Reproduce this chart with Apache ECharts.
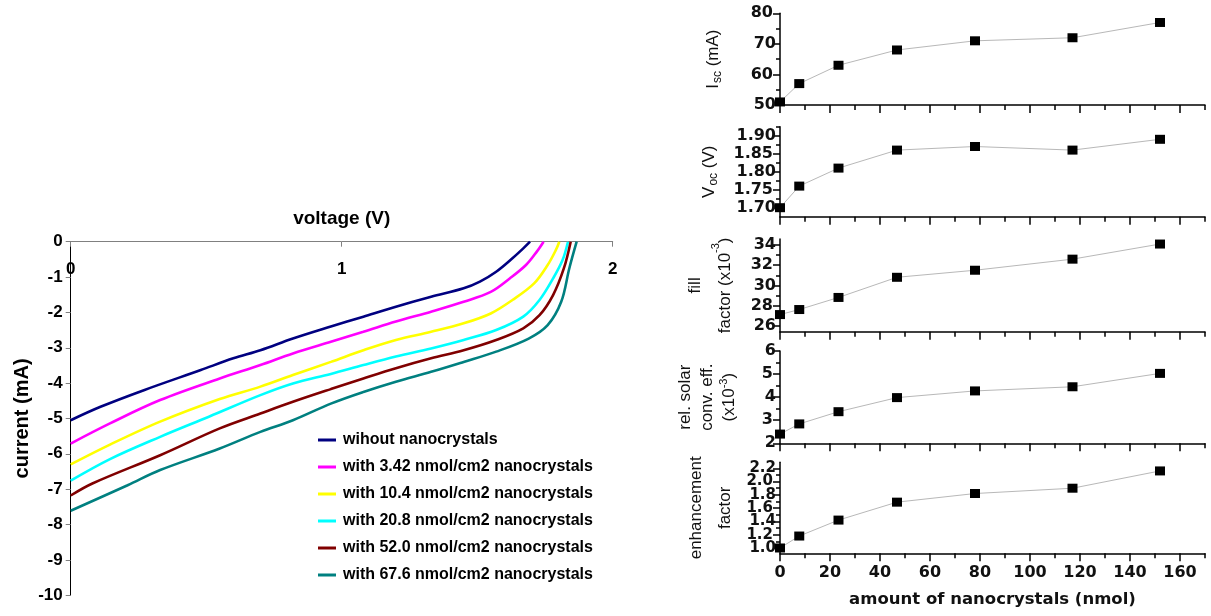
<!DOCTYPE html>
<html><head><meta charset="utf-8">
<script src="https://cdn.jsdelivr.net/npm/echarts@6/dist/echarts.min.js"></script>
<style>html,body{margin:0;padding:0;background:#fff}#c{width:1211px;height:616px}</style>
</head><body><div id="c"></div>
<script>
// ---------- Left chart: I–V curves, [voltage (V), current (mA)] ----------
const curveNames = ['wihout nanocrystals','with 3.42 nmol/cm2 nanocrystals','with 10.4 nmol/cm2 nanocrystals','with 20.8 nmol/cm2 nanocrystals','with 52.0 nmol/cm2 nanocrystals','with 67.6 nmol/cm2 nanocrystals'];
const curveColors = ['#000080','#FF00FF','#FFFF00','#00FFFF','#800000','#008080'];
const ivWithout = [[0,-5.05],[0.11,-4.67],[0.27,-4.20],[0.48,-3.63],[0.60,-3.30],[0.70,-3.07],[0.82,-2.74],[0.96,-2.40],[1.08,-2.12],[1.20,-1.84],[1.33,-1.56],[1.45,-1.32],[1.51,-1.13],[1.57,-0.85],[1.63,-0.47],[1.67,-0.19],[1.695,0]];
const iv342 = [[0,-5.71],[0.145,-5.14],[0.33,-4.48],[0.55,-3.87],[0.70,-3.49],[0.82,-3.16],[0.96,-2.83],[1.08,-2.55],[1.20,-2.26],[1.33,-1.98],[1.45,-1.70],[1.55,-1.42],[1.62,-1.04],[1.68,-0.66],[1.72,-0.28],[1.745,0]];
const iv104 = [[0,-6.30],[0.145,-5.74],[0.33,-5.09],[0.55,-4.45],[0.70,-4.10],[0.82,-3.77],[0.96,-3.40],[1.08,-3.07],[1.20,-2.78],[1.33,-2.55],[1.45,-2.31],[1.55,-2.03],[1.63,-1.65],[1.71,-1.18],[1.76,-0.66],[1.79,-0.24],[1.803,0]];
const iv208 = [[0,-6.76],[0.145,-6.15],[0.33,-5.52],[0.51,-4.95],[0.70,-4.34],[0.82,-4.01],[0.96,-3.74],[1.08,-3.49],[1.20,-3.25],[1.33,-3.02],[1.45,-2.78],[1.57,-2.50],[1.67,-2.12],[1.73,-1.65],[1.78,-1.04],[1.815,-0.52],[1.835,0]];
const iv520 = [[0,-7.18],[0.08,-6.84],[0.33,-6.04],[0.55,-5.28],[0.70,-4.86],[0.82,-4.53],[0.96,-4.17],[1.08,-3.87],[1.20,-3.58],[1.33,-3.30],[1.45,-3.07],[1.57,-2.78],[1.67,-2.45],[1.73,-2.08],[1.78,-1.51],[1.82,-0.75],[1.845,0]];
const iv676 = [[0,-7.61],[0.21,-6.89],[0.33,-6.46],[0.55,-5.85],[0.70,-5.38],[0.82,-5.05],[0.96,-4.58],[1.08,-4.25],[1.20,-3.96],[1.33,-3.68],[1.45,-3.40],[1.57,-3.11],[1.69,-2.74],[1.76,-2.36],[1.81,-1.70],[1.84,-0.75],[1.867,0]];
const ivCurves = [ivWithout, iv342, iv104, iv208, iv520, iv676];

// ---------- Right panels ----------
const amount = [0, 7.7, 23.4, 46.8, 78, 117, 152];
const iscValues  = [51, 57, 63, 68, 71, 72, 77];
const vocValues  = [1.70, 1.76, 1.81, 1.86, 1.87, 1.86, 1.89];
const fillValues = [27.1, 27.6, 28.8, 30.8, 31.5, 32.6, 34.1];
const effValues  = [2.40, 2.84, 3.37, 3.98, 4.27, 4.45, 5.03];
const enhValues  = [1.00, 1.18, 1.42, 1.69, 1.82, 1.90, 2.16];

const xTicks = [0,20,40,60,80,100,120,140,160];
const xMinor = [10,30,50,70,90,110,130,150,170];
const iscTicks = [50,60,70,80], iscMinor = [55,65,75];
const vocTicks = [1.70,1.75,1.80,1.85,1.90], vocMinor = [1.725,1.775,1.825,1.875,1.925];
const fillTicks = [26,28,30,32,34], fillMinor = [27,29,31,33];
const effTicks = [2,3,4,5,6], effMinor = [2.5,3.5,4.5,5.5];
const enhTicks = [1.0,1.2,1.4,1.6,1.8,2.0,2.2], enhMinor = [1.1,1.3,1.5,1.7,1.9,2.1];

const panels = [
  {name:'{n|I}{sub|sc}{n| (mA)}', values:iscValues, ticks:iscTicks, minor:iscMinor, dec:0, min:50, max:80, top:13.3, height:91.7, gap:56, lh:22, fs:16},
  {name:'{n|V}{sub|oc}{n| (V)}', values:vocValues, ticks:vocTicks, minor:vocMinor, dec:2, min:1.675, max:1.925, top:126.7, height:90, gap:60, lh:22, fs:16},
  {name:'{n|fill}\n{n|factor (x10}{sup|-3}{n|)}', values:fillValues, ticks:fillTicks, minor:fillMinor, dec:0, min:25.4, max:34.6, top:239, height:92.7, gap:40, lh:30, fs:16},
  {name:'{n|rel. solar}\n{n|conv. eff.}\n{n|(x10}{sup|-3}{n|)}', values:effValues, ticks:effTicks, minor:effMinor, dec:0, min:2, max:6, top:351, height:92.3, gap:40, lh:22, fs:16},
  {name:'{n|enhancement}\n{n|factor}', values:enhValues, ticks:enhTicks, minor:enhMinor, dec:1, min:0.92, max:2.29, top:462.3, height:91, gap:40, lh:29, fs:15}
];

const grids = [{left:70.7, top:241.7, width:542, height:353.5}];
const xAxes = [{
  gridIndex:0, type:'value', min:0, max:2, interval:1, position:'top',
  axisLine:{onZero:false, lineStyle:{color:'#808080', width:1}},
  axisTick:{show:true, inside:true, length:5, lineStyle:{color:'#808080'}},
  axisLabel:{inside:true, margin:19, fontFamily:'Liberation Sans, Arial', fontWeight:'bold', fontSize:17, color:'#000'},
  splitLine:{show:false},
  name:'voltage (V)', nameLocation:'middle', nameGap:13,
  nameTextStyle:{fontFamily:'Liberation Sans, Arial', fontWeight:'bold', fontSize:19, color:'#000'}
}];
const yAxes = [{
  gridIndex:0, type:'value', min:-10, max:0, interval:1,
  axisLine:{show:true, lineStyle:{color:'#000', width:1}},
  axisTick:{show:true, length:5, lineStyle:{color:'#808080'}},
  axisLabel:{margin:8, fontFamily:'Liberation Sans, Arial', fontWeight:'bold', fontSize:17, color:'#000'},
  splitLine:{show:false},
  name:'current (mA)', nameLocation:'middle', nameGap:38, nameRotate:90,
  nameTextStyle:{fontFamily:'Liberation Sans, Arial', fontWeight:'bold', fontSize:20, color:'#000'}
}];
const series = ivCurves.map((d,i)=>({
  type:'line', name:curveNames[i], xAxisIndex:0, yAxisIndex:0, data:d,
  smooth:0.35, symbol:'none', lineStyle:{color:curveColors[i], width:2.6}, itemStyle:{color:curveColors[i]}
}));

panels.forEach((p, k)=>{
  const g = k + 1;
  const last = k === panels.length - 1;
  const tickFont = {fontFamily:'DejaVu Sans', fontWeight:'bold', fontSize:p.fs, lineHeight:11, color:'#111'};
  const fmt = (v)=>Number(v).toFixed(p.dec);
  const evenLabels = p.ticks.filter((v,i)=>i%2===0);
  const oddLabels = p.ticks.filter((v,i)=>i%2===1);
  grids.push({left:780, width:425, top:p.top, height:p.height});
  const xi = xAxes.length;
  xAxes.push({
    gridIndex:g, type:'value', min:0, max:170, position:'bottom',
    axisLine:{show:true, onZero:false, lineStyle:{color:'#000', width:1.5}},
    axisTick:{show:true, customValues:xTicks, length:8, lineStyle:{color:'#000', width:1.5}},
    axisLabel:{show:last, customValues:xTicks, margin:12, showMinLabel:true, showMaxLabel:true,
      fontFamily:'DejaVu Sans', fontWeight:'bold', fontSize:16, color:'#111'},
    splitLine:{show:false},
    name: last ? 'amount of nanocrystals (nmol)' : '', nameLocation:'middle', nameGap:38,
    nameTextStyle:{fontFamily:'DejaVu Sans', fontWeight:'bold', fontSize:16.5, color:'#111'}
  });
  xAxes.push({
    gridIndex:g, type:'value', min:0, max:170, position:'bottom',
    axisLine:{show:false, onZero:false}, axisLabel:{show:false},
    axisTick:{show:true, customValues:xMinor, length:5, lineStyle:{color:'#000', width:1.5}},
    splitLine:{show:false}
  });
  const yi = yAxes.length;
  yAxes.push({
    gridIndex:g, type:'value', min:p.min, max:p.max, position:'left',
    axisLine:{show:true, onZero:false, lineStyle:{color:'#000', width:1.5}},
    axisTick:{show:true, customValues:p.ticks, length:7, lineStyle:{color:'#000', width:1.5}},
    axisLabel:{customValues:evenLabels, margin:4, showMinLabel:true, showMaxLabel:true, hideOverlap:false,
      formatter:fmt, ...tickFont},
    splitLine:{show:false},
    name:p.name, nameLocation:'middle', nameGap:p.gap, nameRotate:90,
    nameTextStyle:{
      fontFamily:'Liberation Sans, Arial', fontSize:17, color:'#111', lineHeight:p.lh,
      rich:{
        n:{fontFamily:'Liberation Sans, Arial', fontSize:17, color:'#111', lineHeight:p.lh},
        sub:{fontFamily:'Liberation Sans, Arial', fontSize:12, color:'#111', verticalAlign:'bottom', padding:[8,0,0,1]},
        sup:{fontFamily:'Liberation Sans, Arial', fontSize:11, color:'#111', verticalAlign:'top', padding:[0,0,8,0]}
      }
    }
  });
  yAxes.push({
    gridIndex:g, type:'value', min:p.min, max:p.max, position:'left',
    axisLine:{show:false, onZero:false},
    axisLabel:{show:true, customValues:oddLabels, margin:7, showMinLabel:true, showMaxLabel:true, hideOverlap:false,
      formatter:fmt, ...tickFont},
    axisTick:{show:true, customValues:p.minor, length:4, lineStyle:{color:'#000', width:1.5}},
    splitLine:{show:false}
  });
  series.push({
    type:'line', xAxisIndex:xi, yAxisIndex:yi,
    data: amount.map((x,i)=>[x, p.values[i]]),
    symbol:'rect', symbolSize:[10,9], itemStyle:{color:'#000'},
    lineStyle:{color:'#b8b8b8', width:1}, clip:false, z:3
  });
});

const chart = echarts.init(document.getElementById('c'), null, {renderer:'canvas'});
chart.setOption({
  animation:false,
  backgroundColor:'#fff',
  grid:grids, xAxis:xAxes, yAxis:yAxes, series:series,
  legend:{
    data:curveNames, orient:'vertical', left:313, top:426,
    itemWidth:18, itemHeight:3, itemGap:9, icon:'rect',
    textStyle:{fontFamily:'Liberation Sans, Arial', fontWeight:'bold', fontSize:16, lineHeight:18, color:'#000', padding:[0,0,0,2]}
  }
});
</script></body></html>
